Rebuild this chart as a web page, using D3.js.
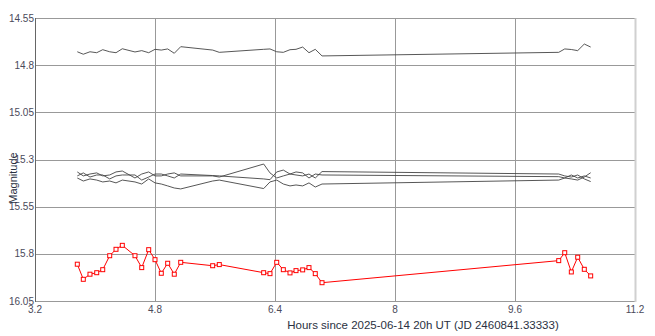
<!DOCTYPE html>
<html>
<head>
<meta charset="utf-8">
<script src="https://cdn.jsdelivr.net/npm/d3@7"></script>
<style>
  body { margin: 0; background: #fff; }
  svg { display: block; font-family: "Liberation Sans", Arial, sans-serif; }
</style>
</head>
<body>
<svg id="chart" width="655" height="336"></svg>
<script>
// hours since 2025-06-14 20h UT
var hours = [3.764, 3.844, 3.933, 4.023, 4.103, 4.196, 4.280, 4.364, 4.533, 4.623,
  4.716, 4.800, 4.884, 4.969, 5.057, 5.143, 5.569, 5.657, 6.249, 6.333,
  6.423, 6.511, 6.600, 6.680, 6.769, 6.853, 6.937, 7.027, 10.183, 10.263,
  10.351, 10.436, 10.524, 10.609];

// variable star (red)
var varMag = [15.855, 15.935, 15.908, 15.900, 15.884, 15.810, 15.776, 15.755, 15.810, 15.873,
  15.778, 15.831, 15.903, 15.850, 15.908, 15.845, 15.863, 15.857, 15.900, 15.905,
  15.845, 15.884, 15.901, 15.889, 15.885, 15.873, 15.905, 15.953, 15.836, 15.794,
  15.896, 15.818, 15.882, 15.917];

// comparison stars (black)
var comp1 = [14.729, 14.742, 14.729, 14.734, 14.718, 14.729, 14.734, 14.713, 14.730, 14.723,
  14.734, 14.716, 14.720, 14.714, 14.737, 14.702, 14.720, 14.732, 14.716, 14.714,
  14.729, 14.732, 14.718, 14.716, 14.704, 14.734, 14.716, 14.751, 14.732, 14.714,
  14.717, 14.723, 14.688, 14.704];
var comp2 = [15.366, 15.387, 15.377, 15.371, 15.387, 15.382, 15.366, 15.361, 15.398, 15.377,
  15.366, 15.387, 15.387, 15.377, 15.371, 15.387, 15.387, 15.393, 15.324, 15.371,
  15.398, 15.387, 15.377, 15.382, 15.387, 15.377, 15.398, 15.364, 15.377, 15.387,
  15.393, 15.382, 15.403, 15.417];
var comp3 = [15.387, 15.371, 15.393, 15.382, 15.382, 15.403, 15.387, 15.382, 15.382, 15.409,
  15.393, 15.377, 15.377, 15.387, 15.398, 15.377, 15.385, 15.387, 15.403, 15.407,
  15.366, 15.356, 15.377, 15.366, 15.371, 15.398, 15.377, 15.382, 15.391, 15.398,
  15.382, 15.398, 15.387, 15.398];
var comp4 = [15.398, 15.414, 15.403, 15.409, 15.419, 15.414, 15.424, 15.409, 15.419, 15.430,
  15.403, 15.424, 15.430, 15.440, 15.451, 15.456, 15.414, 15.409, 15.454, 15.419,
  15.409, 15.430, 15.440, 15.435, 15.440, 15.424, 15.446, 15.430, 15.409, 15.398,
  15.403, 15.409, 15.393, 15.370];

var xTicks = [3.2, 4.8, 6.4, 8, 9.6, 11.2];
var yTicks = [14.55, 14.8, 15.05, 15.3, 15.55, 15.8, 16.05];

var svg = d3.select("#chart");
var plotLeft = 35, plotRight = 635, plotTop = 18, plotBottom = 301;

var x = d3.scaleLinear().domain([3.2, 11.2]).range([plotLeft, plotRight]);
var y = d3.scaleLinear().domain([14.55, 16.05]).range([plotTop, plotBottom]);

// grid lines
svg.append("g").selectAll("line").data(yTicks).join("line")
    .attr("x1", plotLeft).attr("x2", plotRight)
    .attr("y1", d => Math.round(y(d)) + 0.5).attr("y2", d => Math.round(y(d)) + 0.5)
    .attr("stroke", "#999").attr("stroke-width", 1);

svg.append("g").selectAll("line").data(xTicks.slice(1, -1)).join("line")
    .attr("x1", d => Math.round(x(d)) + 0.5).attr("x2", d => Math.round(x(d)) + 0.5)
    .attr("y1", plotTop).attr("y2", plotBottom)
    .attr("stroke", "#999").attr("stroke-width", 1);

// right border
svg.append("line")
    .attr("x1", plotRight + 0.5).attr("x2", plotRight + 0.5).attr("y1", plotTop).attr("y2", plotBottom + 1)
    .attr("stroke", "#d0d0d0").attr("stroke-width", 2);

// left axis line
svg.append("line")
    .attr("x1", plotLeft + 0.5).attr("x2", plotLeft + 0.5).attr("y1", plotTop).attr("y2", plotBottom + 1)
    .attr("stroke", "#666").attr("stroke-width", 1);

// tick labels
svg.append("g").selectAll("text").data(yTicks).join("text")
    .attr("x", plotLeft - 1).attr("y", d => y(d) + 3.5)
    .attr("text-anchor", "end")
    .attr("font-size", "10px").attr("fill", "#4a4a5a")
    .text(d => d);

svg.append("g").selectAll("text").data(xTicks).join("text")
    .attr("x", d => x(d)).attr("y", 313)
    .attr("text-anchor", "middle")
    .attr("font-size", "10px").attr("fill", "#4a4a5a")
    .text(d => d);

// axis titles
svg.append("text")
    .attr("x", 423).attr("y", 329)
    .attr("text-anchor", "middle")
    .attr("font-size", "11.5px").attr("fill", "#2a3142")
    .text("Hours since 2025-06-14 20h UT (JD 2460841.33333)");

svg.append("text")
    .attr("transform", "translate(17,178) rotate(-90)")
    .attr("text-anchor", "middle")
    .attr("font-size", "11px").attr("fill", "#2a3142")
    .text("Magnitude");

// comparison star lines
var line = function (mags) {
    return d3.line()
        .x((d, i) => x(hours[i]))
        .y(d => y(d))(mags);
};

[comp1, comp2, comp3, comp4].forEach(function (mags) {
    svg.append("path")
        .attr("d", line(mags))
        .attr("fill", "none")
        .attr("stroke", "#444")
        .attr("stroke-width", 0.9);
});

// variable star
svg.append("path")
    .attr("d", line(varMag))
    .attr("fill", "none")
    .attr("stroke", "#ff0000")
    .attr("stroke-width", 1);

svg.append("g").selectAll("rect").data(varMag).join("rect")
    .attr("x", (d, i) => x(hours[i]) - 2)
    .attr("y", d => y(d) - 2)
    .attr("width", 4).attr("height", 4)
    .attr("fill", "#fff")
    .attr("stroke", "#ff0000")
    .attr("stroke-width", 1);
</script>
</body>
</html>
